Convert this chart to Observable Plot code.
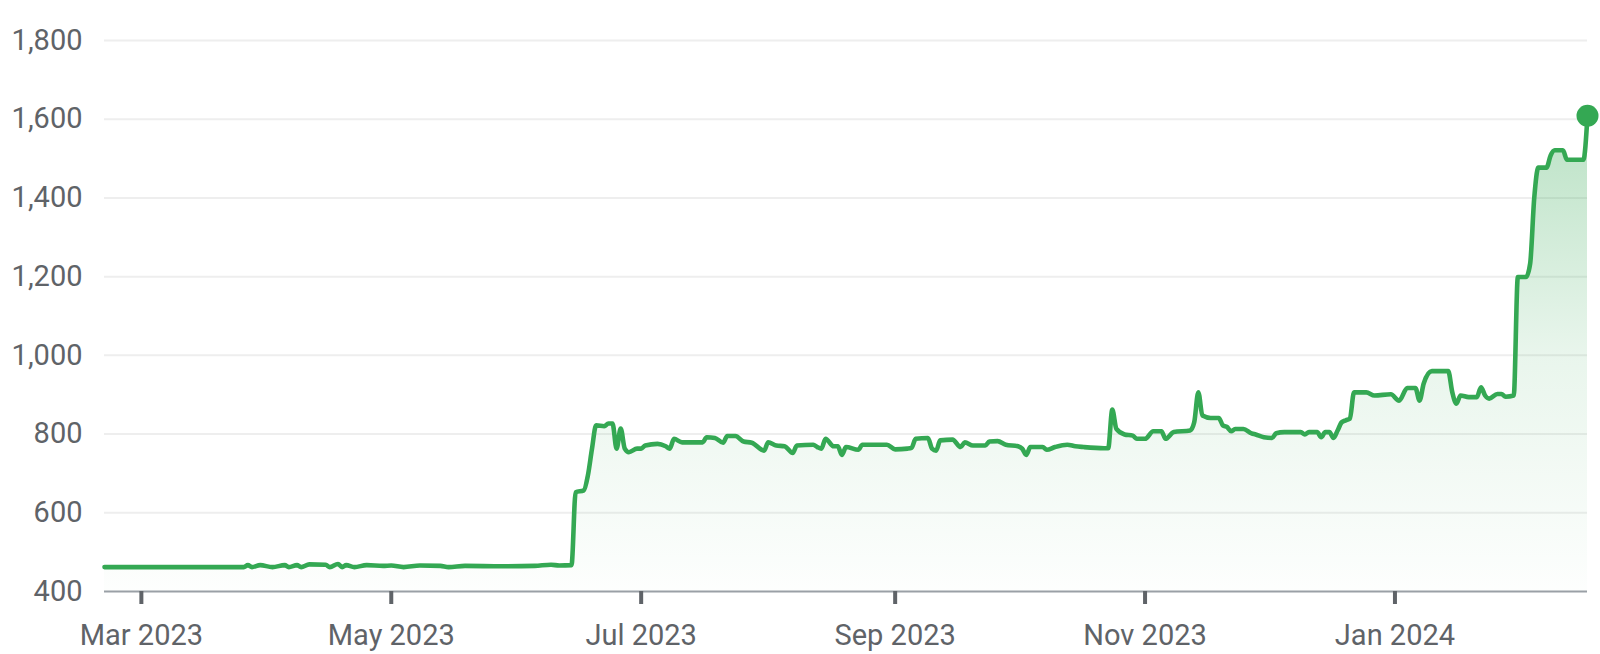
<!DOCTYPE html>
<html>
<head>
<meta charset="utf-8">
<script src="https://cdn.jsdelivr.net/npm/d3@7"></script>
<script src="https://cdn.jsdelivr.net/npm/@observablehq/plot@0.6"></script>
<style>
  html, body { margin: 0; padding: 0; background: #ffffff; }
  #chart { width: 1600px; height: 654px; }
</style>
</head>
<body>
<div id="chart"></div>
<script>
const dates = [
"2023-02-20","2023-03-26","2023-03-27","2023-03-28","2023-03-30","2023-04-02","2023-04-05","2023-04-06","2023-04-08","2023-04-09",
"2023-04-11","2023-04-15","2023-04-16","2023-04-18","2023-04-19","2023-04-20","2023-04-22","2023-04-25","2023-04-29","2023-05-01",
"2023-05-04","2023-05-08","2023-05-13","2023-05-15","2023-05-19","2023-05-28","2023-06-05","2023-06-09","2023-06-11","2023-06-14",
"2023-06-15","2023-06-17","2023-06-18","2023-06-19","2023-06-20","2023-06-22","2023-06-23","2023-06-24","2023-06-25","2023-06-26",
"2023-06-27","2023-06-28","2023-06-30","2023-07-01","2023-07-02","2023-07-05","2023-07-07","2023-07-08","2023-07-09","2023-07-11",
"2023-07-16","2023-07-17","2023-07-19","2023-07-21","2023-07-22","2023-07-24","2023-07-26","2023-07-28","2023-07-31","2023-08-01",
"2023-08-03","2023-08-05","2023-08-07","2023-08-08","2023-08-12","2023-08-13","2023-08-14","2023-08-15","2023-08-17","2023-08-18",
"2023-08-19","2023-08-20","2023-08-23","2023-08-24","2023-08-30","2023-09-01","2023-09-04","2023-09-05","2023-09-06","2023-09-09",
"2023-09-10","2023-09-11","2023-09-12","2023-09-15","2023-09-17","2023-09-18","2023-09-20","2023-09-23","2023-09-24","2023-09-26",
"2023-09-28","2023-10-01","2023-10-02","2023-10-03","2023-10-04","2023-10-07","2023-10-08","2023-10-10","2023-10-13","2023-10-15",
"2023-10-17","2023-10-22","2023-10-23","2023-10-24","2023-10-25","2023-10-27","2023-10-29","2023-10-30","2023-11-01","2023-11-03",
"2023-11-05","2023-11-06","2023-11-08","2023-11-12","2023-11-13","2023-11-14","2023-11-15","2023-11-17","2023-11-19","2023-11-20",
"2023-11-21","2023-11-22","2023-11-23","2023-11-25","2023-11-27","2023-11-28","2023-11-30","2023-12-02","2023-12-03","2023-12-05",
"2023-12-09","2023-12-10","2023-12-11","2023-12-13","2023-12-14","2023-12-15","2023-12-16","2023-12-17","2023-12-18","2023-12-19",
"2023-12-20","2023-12-21","2023-12-22","2023-12-25","2023-12-27","2023-12-31","2024-01-02","2024-01-04","2024-01-06","2024-01-07",
"2024-01-08","2024-01-10","2024-01-14","2024-01-15","2024-01-16","2024-01-17","2024-01-19","2024-01-21","2024-01-22","2024-01-23",
"2024-01-24","2024-01-26","2024-01-27","2024-01-28","2024-01-30","2024-01-31","2024-02-02","2024-02-03","2024-02-04","2024-02-05",
"2024-02-07","2024-02-08","2024-02-09","2024-02-11","2024-02-12","2024-02-16","2024-02-17"
];
const values = [
462,462,467,462,467,462,467,462,467,462,
469,468,462,470,462,467,462,467,465,466,
462,466,465,462,465,464,465,468,466,467,
652,657,695,763,822,820,827,827,763,814,
763,754,763,763,771,775,769,763,788,779,
779,792,790,778,795,795,781,778,758,779,
771,769,752,771,773,767,763,788,769,769,
747,767,760,773,773,761,763,765,788,790,
763,758,784,786,767,779,771,771,781,782,
773,769,763,747,767,767,760,767,773,769,
767,764,764,862,813,799,796,788,788,807,
807,788,805,809,830,906,847,841,841,822,
818,807,813,813,802,799,792,790,802,805,
805,799,805,805,792,805,805,790,809,830,
835,839,906,906,898,901,885,917,917,885,
928,960,960,906,877,898,894,894,919,898,
890,902,902,895,898,1199,1199,1233,1400,1477,
1477,1508,1521,1521,1497,1497,1609
];
const yTicks = [400, 600, 800, 1000, 1200, 1400, 1600, 1800];
const xTickDates = ["2023-03-01","2023-05-01","2023-07-01","2023-09-01","2023-11-01","2024-01-01"];
const xDomain = ["2023-02-20", "2024-02-17"];

const data = dates.map((d, i) => ({date: new Date(d + "T00:00:00Z"), value: values[i]}));
const last = data[data.length - 1];
const green = "#34a853";

const gradientDefs = () => {
  const ns = "http://www.w3.org/2000/svg";
  const defs = document.createElementNS(ns, "defs");
  const g = document.createElementNS(ns, "linearGradient");
  g.setAttribute("id", "areaGrad");
  g.setAttribute("x1", "0"); g.setAttribute("y1", "0");
  g.setAttribute("x2", "0"); g.setAttribute("y2", "1");
  [[0, 0.34], [0.5, 0.11], [1, 0.01]].forEach(([o, a]) => {
    const s = document.createElementNS(ns, "stop");
    s.setAttribute("offset", o);
    s.setAttribute("stop-color", green);
    s.setAttribute("stop-opacity", a);
    g.appendChild(s);
  });
  defs.appendChild(g);
  return defs;
};

const chart = Plot.plot({
  width: 1600,
  height: 654,
  marginLeft: 104,
  marginRight: 13,
  marginTop: 40,
  marginBottom: 63,
  style: {fontFamily: "Roboto", fontSize: "29px", background: "#ffffff", color: "#5f6368"},
  x: {type: "utc", domain: xDomain.map(d => new Date(d + "T00:00:00Z"))},
  y: {domain: [400, 1800]},
  marks: [
    gradientDefs,
    Plot.ruleY(yTicks.filter(t => t > 400), {stroke: "#eeeeee", strokeWidth: 2}),
    Plot.areaY(data, {x: "date", y1: 400, y2: "value", fill: "url(#areaGrad)", curve: "monotone-x"}),
    Plot.ruleY([400], {stroke: "#9aa0a6", strokeWidth: 2}),
    Plot.axisY({ticks: yTicks, tickFormat: d3.format(","), tickSize: 0, tickPadding: 22, fill: "#5f6368", label: null}),
    Plot.axisX({ticks: xTickDates.map(d => new Date(d + "T00:00:00Z")), tickFormat: d3.utcFormat("%b %Y"),
      tickSize: 13, tickPadding: 20, stroke: "#5f6368", strokeWidth: 4, fill: "#5f6368", label: null}),
    Plot.line(data, {x: "date", y: "value", stroke: green, strokeWidth: 4.6, curve: "monotone-x", strokeLinejoin: "round", strokeLinecap: "round"}),
    Plot.dot([last], {x: "date", y: "value", r: 11, fill: green, stroke: "none"})
  ]
});
document.getElementById("chart").appendChild(chart);
</script>
</body>
</html>
